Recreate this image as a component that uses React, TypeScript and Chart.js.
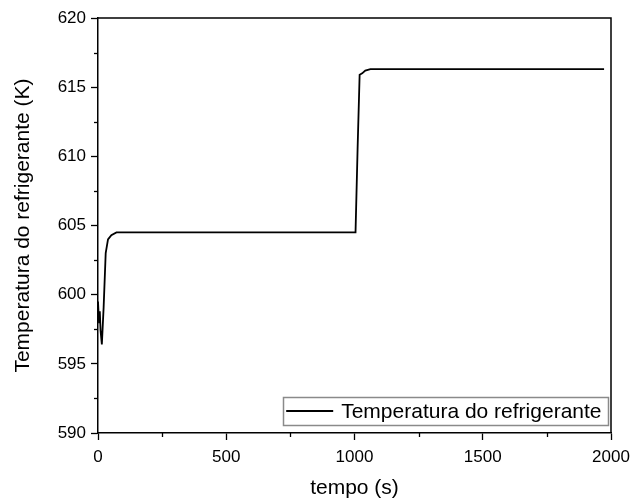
import React, { useEffect, useRef } from 'react';
import { Chart, registerables } from 'chart.js';

Chart.register(...registerables);

// ---- data ----
const timeS = [0, 4, 7, 10, 15, 22, 30, 39, 52, 72, 1004, 1012, 1020, 1030, 1042, 1062, 1973];
const tempK = [599.5, 598.0, 598.8, 597.4, 596.4, 599.1, 603.0, 604.0, 604.3, 604.5, 604.5, 610.5, 615.9, 616.0, 616.2, 616.3, 616.3];
const xRange = [0, 2000];
const yRange = [590, 620];
const xMajorStep = 500;
const yMajorStep = 5;
const seriesLabel = 'Temperatura do refrigerante';
const xTitle = 'tempo (s)';
const yTitle = 'Temperatura do refrigerante (K)';

const FONT = 'Arial, "Liberation Sans", sans-serif';

const isMajor = (v: number, step: number) => Math.abs(v / step - Math.round(v / step)) < 1e-6;

const framePlugin = {
  id: 'frameAndMinor',
  afterDraw(chart: any) {
    const { ctx, chartArea } = chart;
    const { left, right, top, bottom } = chartArea;
    ctx.save();
    ctx.strokeStyle = '#000';
    ctx.lineWidth = 1.5;
    ctx.beginPath();
    ctx.moveTo(left, top);
    ctx.lineTo(right, top);
    ctx.lineTo(right, bottom);
    ctx.stroke();
    // minor ticks
    ctx.lineWidth = 1.3;
    const xs = chart.scales.x;
    xs.ticks.forEach((t: any) => {
      if (!isMajor(t.value, xMajorStep)) {
        const px = Math.round(xs.getPixelForValue(t.value)) + 0.5;
        ctx.beginPath();
        ctx.moveTo(px, bottom);
        ctx.lineTo(px, bottom + 4);
        ctx.stroke();
      }
    });
    const ys = chart.scales.y;
    ys.ticks.forEach((t: any) => {
      if (!isMajor(t.value, yMajorStep)) {
        const py = Math.round(ys.getPixelForValue(t.value)) + 0.5;
        ctx.beginPath();
        ctx.moveTo(left, py);
        ctx.lineTo(left - 4, py);
        ctx.stroke();
      }
    });
    // legend inside the chart area (bottom right)
    const ds = chart.data.datasets[0];
    ctx.font = `21px ${FONT}`;
    const w = ctx.measureText(ds.label).width;
    const boxH = 28;
    const boxRight = right - 3;
    const boxBottom = bottom - 8;
    const lineLen = 47;
    const boxLeft = boxRight - (3 + lineLen + 8 + w + 6.5);
    const boxTop = boxBottom - boxH;
    ctx.fillStyle = '#fff';
    ctx.fillRect(boxLeft, boxTop, boxRight - boxLeft, boxH);
    ctx.strokeStyle = '#8a8a8a';
    ctx.lineWidth = 1.5;
    ctx.strokeRect(Math.round(boxLeft) + 0.5, Math.round(boxTop) + 0.5, Math.round(boxRight - boxLeft), boxH);
    const cy = boxTop + boxH / 2;
    ctx.strokeStyle = ds.borderColor;
    ctx.lineWidth = ds.borderWidth;
    ctx.beginPath();
    ctx.moveTo(boxLeft + 3, cy);
    ctx.lineTo(boxLeft + 3 + lineLen, cy);
    ctx.stroke();
    ctx.fillStyle = '#000';
    ctx.textBaseline = 'middle';
    ctx.textAlign = 'left';
    ctx.fillText(ds.label, boxLeft + 3 + lineLen + 8, cy + 1);
    ctx.restore();
  },
};

export default function App() {
  const ref = useRef<HTMLCanvasElement | null>(null);
  useEffect(() => {
    if (!ref.current) return;
    const points = timeS.map((t, i) => ({ x: t, y: tempK[i] }));
    const chart = new Chart(ref.current, {
      type: 'line',
      data: {
        datasets: [
          {
            label: seriesLabel,
            data: points,
            borderColor: '#000',
            backgroundColor: '#000',
            borderWidth: 1.8,
            pointRadius: 0,
            tension: 0,
            fill: false,
          },
        ],
      },
      options: {
        responsive: false,
        animation: false,
        events: [],
        layout: { padding: { top: 18, right: 21, left: 0, bottom: 0 } },
        plugins: { legend: { display: false }, tooltip: { enabled: false } },
        scales: {
          x: {
            type: 'linear',
            min: xRange[0],
            max: xRange[1],
            afterFit: (s: any) => {
              s.height = 66;
              s.paddingLeft = 0;
              s.paddingRight = 0;
            },
            ticks: {
              stepSize: 250,
              autoSkip: false,
              maxRotation: 0,
              padding: 7,
              color: '#000',
              font: { size: 17, family: FONT },
              callback: (v: any) => (isMajor(Number(v), xMajorStep) ? String(v) : ''),
            },
            grid: {
              display: true,
              drawOnChartArea: false,
              drawTicks: true,
              tickLength: 7,
              tickWidth: 1.3,
              tickColor: (c: any) => (c.tick && isMajor(c.tick.value, xMajorStep) ? '#000' : 'rgba(0,0,0,0)'),
            },
            border: { display: true, color: '#000', width: 1.5 },
            title: {
              display: true,
              text: xTitle,
              color: '#000',
              font: { size: 21, family: FONT, lineHeight: 1 },
              padding: { top: 0, bottom: 0 },
            },
          },
          y: {
            type: 'linear',
            min: yRange[0],
            max: yRange[1],
            afterFit: (s: any) => {
              s.width = 98;
              s.paddingTop = 0;
              s.paddingBottom = 0;
            },
            ticks: {
              stepSize: 2.5,
              autoSkip: false,
              padding: 5,
              color: '#000',
              font: { size: 17, family: FONT },
              callback: (v: any) => (isMajor(Number(v), yMajorStep) ? String(v) : ''),
            },
            grid: {
              display: true,
              drawOnChartArea: false,
              drawTicks: true,
              tickLength: 7,
              tickWidth: 1.3,
              tickColor: (c: any) => (c.tick && isMajor(c.tick.value, yMajorStep) ? '#000' : 'rgba(0,0,0,0)'),
            },
            border: { display: true, color: '#000', width: 1.5 },
            title: {
              display: true,
              text: yTitle,
              color: '#000',
              font: { size: 21, family: FONT },
              padding: { top: 11, bottom: 0 },
            },
          },
        },
      },
      plugins: [framePlugin],
    } as any);
    return () => chart.destroy();
  }, []);
  return (
    <div style={{ position: 'absolute', left: 0, top: 0, width: 632, height: 499, background: '#fff' }}>
      <canvas ref={ref} width={632} height={499} style={{ display: 'block' }} />
    </div>
  );
}
